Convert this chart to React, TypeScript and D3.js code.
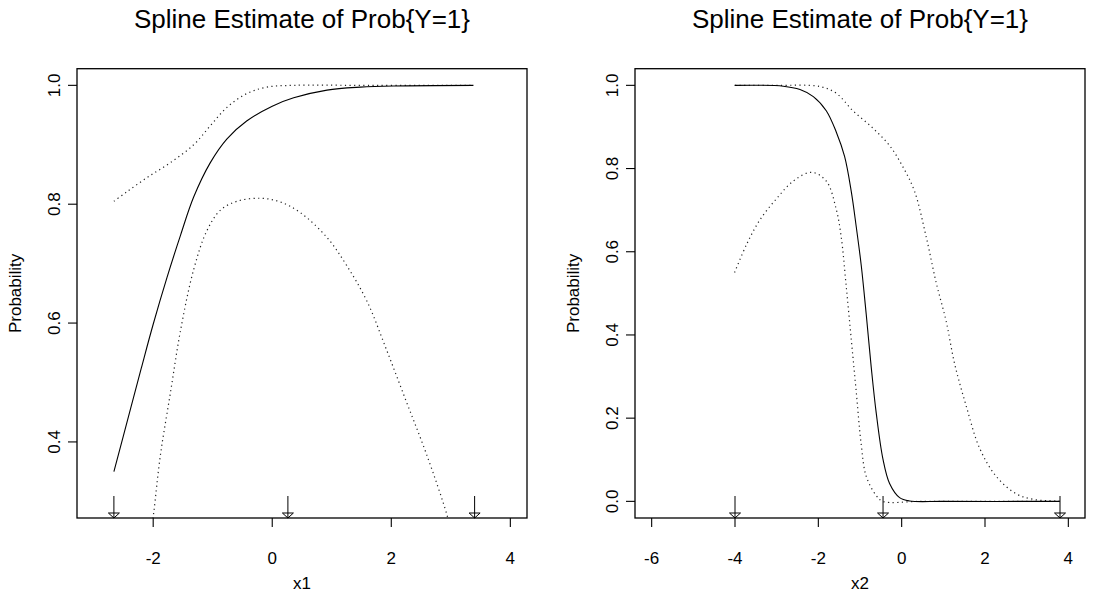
import React from 'react';
import * as d3 from 'd3';

// ---- data ----
// left panel: x1
const x1Fit = [
  [-2.66, 0.350], [-2.38, 0.456], [-2.20, 0.524], [-2.00, 0.598], [-1.77, 0.676],
  [-1.54, 0.748], [-1.32, 0.812], [-1.04, 0.870], [-0.76, 0.910], [-0.43, 0.940],
  [0.0, 0.965], [0.36, 0.979], [0.92, 0.992], [1.48, 0.997], [2.04, 0.999], [3.38, 1.0],
];
const x1Upper = [
  [-2.66, 0.805], [-2.44, 0.821], [-2.10, 0.845], [-1.71, 0.870], [-1.32, 0.900],
  [-1.04, 0.932], [-0.76, 0.963], [-0.43, 0.986], [-0.09, 0.997], [0.36, 1.0], [1.5, 1.0], [3.38, 1.0],
];
const x1Lower = [
  [-2.05, 0.24], [-1.99, 0.282], [-1.88, 0.377], [-1.71, 0.483], [-1.54, 0.588],
  [-1.32, 0.690], [-1.10, 0.755], [-0.87, 0.790], [-0.59, 0.805], [-0.20, 0.810],
  [0.13, 0.804], [0.47, 0.786], [0.92, 0.744], [1.25, 0.697], [1.59, 0.637],
  [1.92, 0.555], [2.26, 0.466], [2.60, 0.377], [2.93, 0.279], [3.0, 0.25],
];
const x1Arrows = [-2.66, 0.263, 3.40];

// right panel: x2
const x2Fit = [
  [-4.01, 1.0], [-2.84, 0.998], [-2.44, 0.990], [-2.12, 0.973], [-1.81, 0.939],
  [-1.57, 0.888], [-1.37, 0.829], [-1.21, 0.745], [-1.09, 0.660], [-0.97, 0.567],
  [-0.85, 0.449], [-0.73, 0.322], [-0.61, 0.212], [-0.45, 0.102], [-0.29, 0.043],
  [-0.05, 0.009], [0.19, 0.001], [1.0, 0.0], [3.79, 0.0],
];
const x2Upper = [
  [-4.0, 1.0], [-3.0, 1.0], [-1.96, 0.997], [-1.57, 0.981], [-1.17, 0.939], [-0.69, 0.897],
  [-0.29, 0.855], [0.03, 0.804], [0.31, 0.745], [0.59, 0.635], [0.83, 0.525],
  [1.07, 0.432], [1.27, 0.331], [1.55, 0.229], [1.87, 0.128], [2.27, 0.060],
  [2.75, 0.018], [3.15, 0.005], [3.79, 0.0],
];
const x2Lower = [
  [-4.01, 0.550], [-3.72, 0.618], [-3.40, 0.677], [-3.00, 0.728], [-2.60, 0.770],
  [-2.16, 0.791], [-1.81, 0.770], [-1.57, 0.702], [-1.45, 0.635], [-1.33, 0.516],
  [-1.21, 0.390], [-1.09, 0.263], [-0.97, 0.136], [-0.85, 0.060], [-0.61, 0.014],
  [-0.45, 0.0], [0.5, 0.0], [3.79, 0.0],
];
const x2Arrows = [-4.0, -0.447, 3.80];

const x1Ticks = [-2, 0, 2, 4];
const x2Ticks = [-6, -4, -2, 0, 2, 4];
const y1Ticks = [0.4, 0.6, 0.8, 1.0];
const y2Ticks = [0.0, 0.2, 0.4, 0.6, 0.8, 1.0];

const TITLE = 'Spline Estimate of Prob{Y=1}';
const FONT = '"Liberation Sans", Arial, sans-serif';

const TOP = 68.7;
const BOTTOM = 518;

// R style 4% axis extension
const ext = (lo: number, hi: number) => {
  const d = (hi - lo) * 0.04;
  return [lo - d, hi + d];
};

type Pt = number[];

const Panel = ({ id, left, xlim, ylim, xTicks, yTicks, fit, upper, lower, arrows, xlab }: any) => {
  const right = left + 450;
  const x = d3.scaleLinear().domain(ext(xlim[0], xlim[1])).range([left, right]);
  const y = d3.scaleLinear().domain(ext(ylim[0], ylim[1])).range([BOTTOM, TOP]);
  const line = d3.line<Pt>().x(d => x(d[0])).y(d => y(d[1])).curve(d3.curveCatmullRom.alpha(0.5));
  const midY = (TOP + BOTTOM) / 2;
  const midX = (left + right) / 2;
  const fmt = d3.format('.1f');

  return (
    <g>
      <defs>
        <clipPath id={id}>
          <rect x={left} y={TOP} width={450} height={BOTTOM - TOP} />
        </clipPath>
      </defs>
      <text x={midX} y={28} textAnchor="middle" fontSize={26} fontFamily={FONT}>{TITLE}</text>

      <g clipPath={`url(#${id})`} fill="none">
        <path d={line(upper) || ''} stroke="#222" strokeWidth={1.2} strokeDasharray="1.2 3.4" />
        <path d={line(lower) || ''} stroke="#222" strokeWidth={1.2} strokeDasharray="1.2 3.4" />
        <path d={line(fit) || ''} stroke="#000" strokeWidth={1.1} />
      </g>

      {arrows.map((a: number, i: number) => (
        <g key={i} stroke="#000" strokeWidth={1} fill="none">
          <line x1={x(a)} x2={x(a)} y1={BOTTOM - 22} y2={BOTTOM} />
          <path d={`M${x(a) - 5.5},${BOTTOM - 5} L${x(a) + 5.5},${BOTTOM - 5} L${x(a)},${BOTTOM} Z`} />
        </g>
      ))}

      <rect x={left} y={TOP} width={450} height={BOTTOM - TOP} fill="none" stroke="#000" strokeWidth={1.3} />

      {xTicks.map((t: number) => (
        <g key={t}>
          <line x1={x(t)} x2={x(t)} y1={BOTTOM} y2={BOTTOM + 9} stroke="#000" strokeWidth={1.1} />
          <text x={x(t)} y={563.5} textAnchor="middle" fontSize={17} fontFamily={FONT}>{t}</text>
        </g>
      ))}
      {yTicks.map((t: number) => (
        <g key={t}>
          <line x1={left - 9} x2={left} y1={y(t)} y2={y(t)} stroke="#000" strokeWidth={1.1} />
          <text transform={`translate(${left - 17},${y(t)}) rotate(-90)`} textAnchor="middle"
            fontSize={17} fontFamily={FONT}>{fmt(t)}</text>
        </g>
      ))}
      <text x={midX} y={589} textAnchor="middle" fontSize={17} fontFamily={FONT}>{xlab}</text>
      <text transform={`translate(${left - 56},${midY}) rotate(-90)`} textAnchor="middle"
        fontSize={17} fontFamily={FONT}>Probability</text>
    </g>
  );
};

export default function App() {
  return (
    <svg width={1094} height={592} style={{ position: 'absolute', left: 0, top: 0, background: '#fff' }}>
      <rect width={1094} height={592} fill="#fff" />
      <Panel id="c1" left={77} xlim={[-3, 4]} ylim={[0.3, 1.0]} xTicks={x1Ticks} yTicks={y1Ticks}
        fit={x1Fit} upper={x1Upper} lower={x1Lower} arrows={x1Arrows} xlab="x1" />
      <Panel id="c2" left={635} xlim={[-6, 4]} ylim={[0, 1]} xTicks={x2Ticks} yTicks={y2Ticks}
        fit={x2Fit} upper={x2Upper} lower={x2Lower} arrows={x2Arrows} xlab="x2" />
    </svg>
  );
}
